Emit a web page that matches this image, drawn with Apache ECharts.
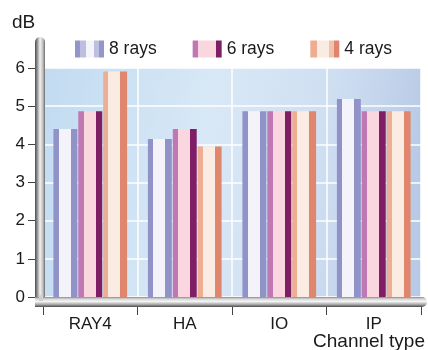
<!DOCTYPE html>
<html>
<head>
<meta charset="utf-8">
<script src="https://cdn.jsdelivr.net/npm/echarts@6/dist/echarts.min.js"></script>
<style>
  html, body { margin: 0; padding: 0; background: #fff; }
  #chart { width: 428px; height: 350px; }
</style>
</head>
<body>
<div id="chart"></div>
<script>
// Channel types along the x axis
const categories = ['RAY4', 'HA', 'IO', 'IP'];
// Level in dB per channel type, one array per ray count
const rays8 = [4.40, 4.14, 4.87, 5.19];
const rays6 = [4.87, 4.40, 4.87, 4.87];
const rays4 = [5.91, 3.94, 4.87, 4.87];
const seriesNames = ['8 rays', '6 rays', '4 rays'];
const yTicks = { min: 0, max: 6, interval: 1 };

const FONT = '"Liberation Sans", Arial, Helvetica, sans-serif';
const W = 428, H = 350;
const G = { left: 43, right: 7, top: 68, bottom: 53 };
const plotBottom = H - G.bottom;

const LG = echarts.graphic.LinearGradient;

// three-band stripe fill for the bars: edge / light centre / edge
function stripes(a, b, c) {
  return new LG(0, 0, 1, 0, [
    { offset: 0, color: a }, { offset: 0.22, color: a },
    { offset: 0.22, color: b }, { offset: 0.72, color: b },
    { offset: 0.72, color: c }, { offset: 1, color: c }
  ]);
}
function bands(list) {
  const stops = [];
  list.forEach(([from, to, col]) => {
    stops.push({ offset: from, color: col }, { offset: to, color: col });
  });
  return new LG(0, 0, 1, 0, stops);
}

const barFills = [
  stripes('#8f93c7', '#f4f3fa', '#8f93c7'),
  stripes('#bf78b4', '#fad7df', '#7f1d65'),
  stripes('#eeae94', '#faece3', '#e0866c')
];
const legendFills = [
  bands([[0, 0.17, '#9396c9'], [0.17, 0.38, '#bdbee0'], [0.38, 0.67, '#f5f4fa'], [0.67, 0.83, '#bdbee0'], [0.83, 1, '#9396c9']]),
  bands([[0, 0.18, '#bf78b4'], [0.18, 0.8, '#fad7df'], [0.8, 1, '#7f1d65']]),
  bands([[0, 0.23, '#eeac92'], [0.23, 0.63, '#faebe3'], [0.63, 0.8, '#f0c3b0'], [0.8, 1, '#e0846c']])
];

const values = [rays8, rays6, rays4];

const chart = echarts.init(document.getElementById('chart'), null, { renderer: 'canvas' });

chart.setOption({
  animation: false,
  backgroundColor: '#ffffff',
  textStyle: { fontFamily: FONT },
  grid: {
    left: G.left, right: G.right, top: G.top, bottom: G.bottom,
    show: true, borderWidth: 0,
    backgroundColor: new LG(0, 0, 1, 0.3, [
      { offset: 0, color: '#c2dbf1' },
      { offset: 0.45, color: '#d8e8f6' },
      { offset: 0.75, color: '#cfdff2' },
      { offset: 1, color: '#b9cae6' }
    ])
  },
  legend: {
    left: 75, top: 40, padding: 0,
    itemWidth: 29, itemHeight: 17, itemGap: 36,
    icon: 'rect',
    textStyle: { fontFamily: FONT, fontSize: 17.5, color: '#1a1a1a' },
    data: seriesNames.map((n, i) => ({ name: n, itemStyle: { color: legendFills[i] } }))
  },
  xAxis: {
    type: 'category',
    data: categories,
    boundaryGap: true,
    axisLine: { show: false },
    axisTick: { show: true, length: 18, lineStyle: { color: '#444', width: 1 } },
    axisLabel: { fontFamily: FONT, fontSize: 17, color: '#1a1a1a', margin: 19 },
    splitLine: { show: true, lineStyle: { color: '#ffffff', width: 1.5 } }
  },
  yAxis: {
    type: 'value',
    min: yTicks.min, max: yTicks.max, interval: yTicks.interval,
    axisLine: { show: false },
    axisTick: { show: true, length: 15, lineStyle: { color: '#444', width: 1 } },
    axisLabel: { fontFamily: FONT, fontSize: 17, color: '#1a1a1a', margin: 18 },
    splitLine: { show: true, lineStyle: { color: '#ffffff', width: 1.5 } }
  },
  series: seriesNames.map((n, i) => ({
    name: n,
    type: 'bar',
    data: values[i],
    barGap: '4%',
    barCategoryGap: '22%',
    itemStyle: { color: barFills[i] },
    emphasis: { disabled: true }
  })),
  graphic: [
    // raised vertical axis bar
    {
      type: 'rect', z: 100,
      shape: { x: 35, y: 37, width: 10, height: plotBottom + 9 - 37, r: [5, 5, 0, 0] },
      style: {
        fill: new LG(0, 0, 1, 0, [
          { offset: 0, color: '#4a4a4a' },
          { offset: 0.25, color: '#9a9a9a' },
          { offset: 0.5, color: '#f2f2f2' },
          { offset: 0.8, color: '#bdbdbd' },
          { offset: 1, color: '#6a6a6a' }
        ])
      }
    },
    // raised horizontal axis bar
    {
      type: 'rect', z: 101,
      shape: { x: 35, y: plotBottom, width: W - 1 - 35, height: 10, r: [0, 5, 5, 0] },
      style: {
        fill: new LG(0, 0, 0, 1, [
          { offset: 0, color: '#8a8a8a' },
          { offset: 0.2, color: '#d8d8d8' },
          { offset: 0.45, color: '#f4f4f4' },
          { offset: 0.75, color: '#a8a8a8' },
          { offset: 1, color: '#4a4a4a' }
        ])
      }
    },
    // inner light edge of the corner frame
    {
      type: 'rect', z: 102,
      shape: { x: 39, y: plotBottom - 2, width: 4, height: 6 },
      style: { fill: '#d0d0d0' }
    },
    {
      type: 'text', z: 103, left: 12, top: 13,
      style: { text: 'dB', font: '19px ' + FONT, fill: '#1a1a1a' }
    },
    {
      type: 'text', z: 103, right: 3, top: 332,
      style: { text: 'Channel type', font: '19px ' + FONT, fill: '#1a1a1a' }
    }
  ]
});
</script>
</body>
</html>
